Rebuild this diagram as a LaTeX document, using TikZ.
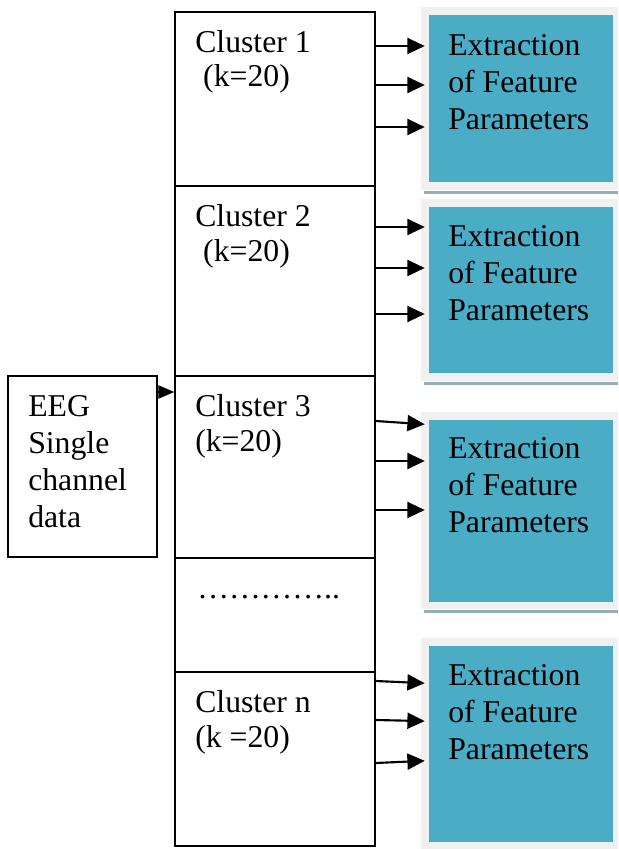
\documentclass[tikz,border=0pt]{standalone}
\usepackage{fontspec}
\setmainfont{Liberation Serif}
\usetikzlibrary{arrows.meta,fit}
\definecolor{panelblue}{HTML}{4BACC6}
\definecolor{framegray}{HTML}{F0F0F0}
\definecolor{shadowgray}{HTML}{93ADB9}
\begin{document}
\begin{tikzpicture}[x=0.75pt,y=-0.75pt,
  cell/.style={draw=black,line width=1.1pt,inner sep=0pt},
  frame/.style={fill=framegray,inner sep=0pt},
  panel/.style={fill=panelblue,inner sep=0pt},
  lbl/.style={inner sep=0pt,anchor=base west,align=left,
    font=\fontsize{23.8pt}{26pt}\selectfont},
  eeglbl/.style={lbl,font=\fontsize{23.8pt}{27.6pt}\selectfont},
  extlbl/.style={lbl,font=\fontsize{23.8pt}{27.4pt}\selectfont},
  arr/.style={-{Triangle[length=13pt,width=12pt]},line width=1.6pt,shorten >=-3pt},
  inarr/.style={-{Triangle[length=12pt,width=10pt]},line width=1.2pt}]
\useasboundingbox (0,0) rectangle (618,849);

% column of clusters
\node[cell,fit={(175,12) (375,186)}] (c1) {};
\node[cell,fit={(175,186) (375,376)}] (c2) {};
\node[cell,fit={(175,376) (375,558)}] (c3) {};
\node[cell,fit={(175,558) (375,672)}] (c4) {};
\node[cell,fit={(175,672) (375,846)}] (c5) {};

% input box
\node[cell,fit={(8,376) (157,557)}] (eeg) {};

% feature extraction panels: light frame, blue face, thin shadow
\foreach \n/\ta/\tb/\ia/\ib in {1/7/190/15/182, 2/199/381/207/373, 3/412/609/420/602, 4/638/849/646/842}{
  \node[frame,fit={(421,\ta) (618,\tb)}] (g\n) {};
  \node[panel,fit={(429,\ia) (613,\ib)}] (p\n) {};
}
\foreach \n in {1,2,3}{
  \fill[shadowgray] ([xshift=2.2pt,yshift=-0.8pt]g\n.south west) rectangle ([yshift=-3pt]g\n.south east);
}

% labels (anchored on the baseline of their last line)
\node[lbl] (l1) at (195,87) {Cluster 1\\\hspace*{0.25em}(k=20)};
\node[lbl] (l2) at (195,261) {Cluster 2\\\hspace*{0.25em}(k=20)};
\node[lbl] (l3) at (195,451) {Cluster 3\\(k=20)};
\node[lbl] (l4) at (197,598) {…………..};
\node[lbl] (l5) at (195,747) {Cluster n\\(k =20)};
\node[eeglbl] (le) at (28,527) {EEG\\Single\\channel\\data};
\node[extlbl] (x1) at (448,129) {Extraction\\of Feature\\Parameters};
\node[extlbl] (x2) at (448,320) {Extraction\\of Feature\\Parameters};
\node[extlbl] (x3) at (448,532) {Extraction\\of Feature\\Parameters};
\node[extlbl] (x4) at (448,759) {Extraction\\of Feature\\Parameters};

% connectors
\draw[inarr] (eeg.east |- 0,392) -- (c3.west |- 0,392);
\foreach \y in {46,85,127} \draw[arr] (c1.east |- 0,\y) -- (g1.west |- 0,\y);
\foreach \y in {227,268,314} \draw[arr] (c2.east |- 0,\y) -- (g2.west |- 0,\y);
\draw[arr] (c3.east |- 0,421) -- (g3.west |- 0,424);
\draw[arr] (c3.east |- 0,461) -- (g3.west |- 0,461);
\draw[arr] (c3.east |- 0,510) -- (g3.west |- 0,510);
\draw[arr] (c5.east |- 0,681) -- (g4.west |- 0,683);
\draw[arr] (c5.east |- 0,720) -- (g4.west |- 0,721);
\draw[arr] (c5.east |- 0,763) -- (g4.west |- 0,761);
\end{tikzpicture}
\end{document}
